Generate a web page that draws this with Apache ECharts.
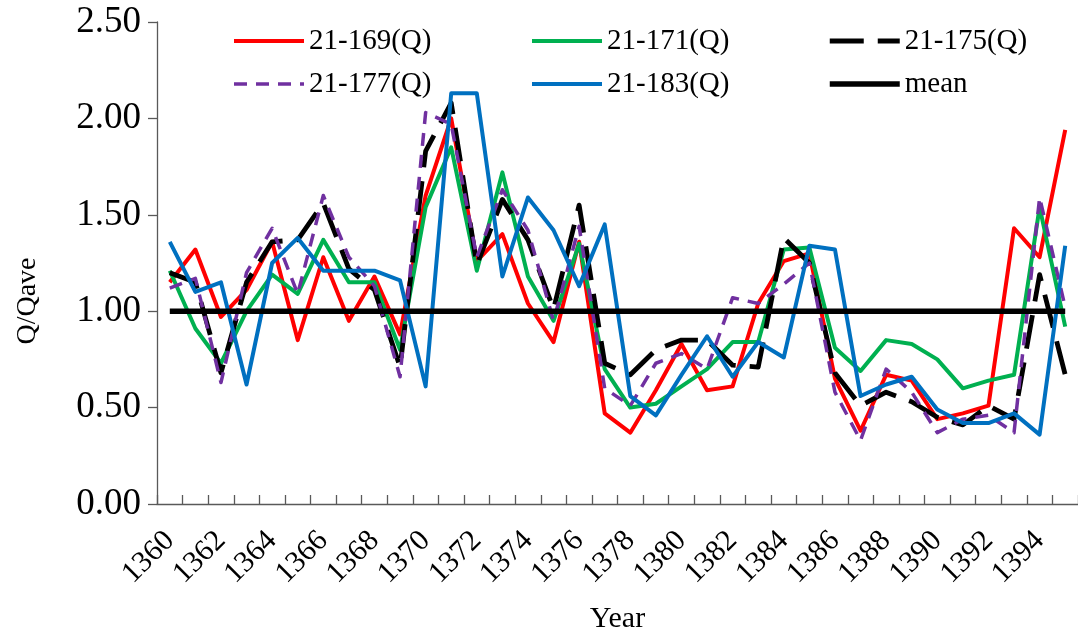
<!DOCTYPE html>
<html>
<head>
<meta charset="utf-8">
<script src="https://cdn.jsdelivr.net/npm/echarts@6/dist/echarts.min.js"></script>
<style>
  html, body { margin: 0; padding: 0; background: #fff; }
  #chart { width: 1078px; height: 635px; }
</style>
</head>
<body>
<div id="chart"></div>
<script>
// Years on the horizontal axis
const years = [];
for (let y = 1360; y <= 1395; y++) years.push(String(y));

// Q/Qave per gauging station
const q169 = [1.15, 1.32, 0.97, 1.11, 1.36, 0.85, 1.28, 0.95, 1.18, 0.88, 1.60, 2.00, 1.26, 1.40, 1.04, 0.84, 1.36, 0.47, 0.37, 0.59, 0.83, 0.59, 0.61, 1.04, 1.26, 1.30, 0.65, 0.38, 0.67, 0.64, 0.44, 0.47, 0.51, 1.43, 1.28, 1.94];
const q171 = [1.21, 0.91, 0.73, 1.00, 1.19, 1.09, 1.37, 1.15, 1.15, 0.80, 1.54, 1.85, 1.21, 1.72, 1.18, 0.95, 1.35, 0.70, 0.50, 0.52, 0.61, 0.70, 0.84, 0.84, 1.32, 1.33, 0.81, 0.69, 0.85, 0.83, 0.75, 0.60, 0.64, 0.67, 1.54, 0.92];
const q175 = [1.20, 1.15, 0.68, 1.15, 1.36, 1.37, 1.56, 1.22, 1.11, 0.71, 1.83, 2.08, 1.24, 1.58, 1.37, 1.01, 1.55, 0.73, 0.67, 0.80, 0.85, 0.85, 0.72, 0.71, 1.38, 1.25, 0.68, 0.51, 0.58, 0.53, 0.45, 0.41, 0.51, 0.44, 1.19, 0.67];
const q177 = [1.12, 1.17, 0.63, 1.20, 1.43, 1.09, 1.60, 1.28, 1.13, 0.66, 2.03, 1.97, 1.28, 1.63, 1.42, 0.95, 1.44, 0.60, 0.51, 0.73, 0.78, 0.70, 1.07, 1.04, 1.14, 1.25, 0.58, 0.33, 0.70, 0.58, 0.37, 0.44, 0.46, 0.37, 1.59, 1.02];
const q183 = [1.36, 1.10, 1.15, 0.62, 1.25, 1.38, 1.21, 1.21, 1.21, 1.16, 0.61, 2.13, 2.13, 1.18, 1.59, 1.42, 1.13, 1.45, 0.56, 0.46, 0.67, 0.87, 0.66, 0.84, 0.76, 1.34, 1.32, 0.56, 0.62, 0.66, 0.49, 0.42, 0.42, 0.47, 0.36, 1.34];
const meanLevel = 1.0;
const meanLine = years.map(() => meanLevel);

// Value axis ticks
const yMin = 0, yMax = 2.5, yStep = 0.5;

const FONT = 'Liberation Serif';
const AXIS_COLOR = '#595959';

const styles = {
  '21-169(Q)': { color: '#FF0000', width: 4, type: 'solid' },
  '21-171(Q)': { color: '#00B050', width: 4, type: 'solid' },
  '21-175(Q)': { color: '#000000', width: 4.8, type: [34, 14] },
  '21-177(Q)': { color: '#7030A0', width: 3.5, type: [13, 9] },
  '21-183(Q)': { color: '#0070C0', width: 4, type: 'solid' },
  'mean':      { color: '#000000', width: 5.5, type: 'solid' }
};
const seriesData = [
  ['21-169(Q)', q169], ['21-171(Q)', q171], ['21-175(Q)', q175],
  ['21-177(Q)', q177], ['21-183(Q)', q183], ['mean', meanLine]
];

// One legend per column so the three columns line up
function legendColumn(names, left) {
  return {
    orient: 'vertical',
    left: left,
    top: 26,
    padding: 0,
    itemWidth: 70,
    itemHeight: 14,
    itemGap: 13,
    textStyle: { fontFamily: FONT, fontSize: 29, color: '#000', lineHeight: 30 },
    data: names.map(n => ({
      name: n,
      itemStyle: { opacity: 0 },
      lineStyle: { width: styles[n].width, type: styles[n].type, color: styles[n].color }
    }))
  };
}

const chart = echarts.init(document.getElementById('chart'), null, { renderer: 'canvas' });
chart.setOption({
  animation: false,
  backgroundColor: '#ffffff',
  grid: { left: 157, right: 0, top: 22, bottom: 131, containLabel: false, outerBoundsMode: 'none' },
  legend: [
    legendColumn(['21-169(Q)', '21-177(Q)'], 232),
    legendColumn(['21-171(Q)', '21-183(Q)'], 530),
    legendColumn(['21-175(Q)', 'mean'], 827)
  ],
  xAxis: {
    type: 'category',
    data: years,
    boundaryGap: true,
    name: 'Year',
    nameLocation: 'middle',
    nameGap: 100,
    nameTextStyle: { fontFamily: FONT, fontSize: 30, color: '#000' },
    axisLine: { lineStyle: { color: AXIS_COLOR, width: 1.3 } },
    axisTick: { show: true, inside: true, length: 9, interval: 0, lineStyle: { color: AXIS_COLOR, width: 1.3 } },
    axisLabel: { interval: 1, rotate: 45, margin: 32, fontFamily: FONT, fontSize: 30, color: '#000' },
    splitLine: { show: false }
  },
  yAxis: {
    type: 'value',
    min: yMin,
    max: yMax,
    interval: yStep,
    name: 'Q/Qave',
    nameLocation: 'middle',
    nameGap: 115,
    nameTextStyle: { fontFamily: FONT, fontSize: 28, color: '#000', padding: [0, 76, 0, 0] },
    axisLine: { show: true, lineStyle: { color: AXIS_COLOR, width: 1.3 } },
    axisTick: { show: true, inside: false, length: 9, lineStyle: { color: AXIS_COLOR, width: 1.3 } },
    axisLabel: { margin: 16, fontFamily: FONT, fontSize: 37, color: '#000', formatter: v => v.toFixed(2) },
    splitLine: { show: false }
  },
  series: seriesData.map(([name, data], k) => ({
    name: name,
    type: 'line',
    data: data,
    symbol: 'none',
    z: name === 'mean' ? 5 : 2 + k * 0.1,
    lineStyle: { color: styles[name].color, width: styles[name].width, type: styles[name].type, join: 'round', cap: 'butt' },
    itemStyle: { color: styles[name].color }
  }))
});
</script>
</body>
</html>
